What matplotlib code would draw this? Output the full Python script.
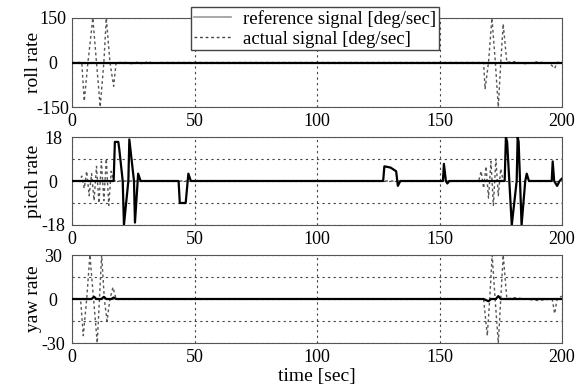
import numpy as np
import matplotlib
matplotlib.use("Agg")
import matplotlib.pyplot as plt
from matplotlib.lines import Line2D

plt.rcParams['font.family'] = ['Liberation Serif', 'DejaVu Serif']
plt.rcParams['font.size'] = 13
plt.rcParams['axes.unicode_minus'] = False

# ---- data (time [sec], value [deg/sec]) ----
roll_ref_t = [0, 200]
roll_ref_v = [0, 0]
roll_act_t = [0, 4, 5, 6.5, 8.5, 10, 11.5, 13, 14, 15.5, 17, 18, 22, 25, 27, 29, 31, 33, 35,
              168, 168.6, 170, 171.4, 172.8, 174, 175, 176, 177.5, 180, 185, 190, 195, 197, 198, 200]
roll_act_v = [0, 0, -130, 0, 150, 0, -150, 0, 150, 0, -80, 0, 0, -5, 3, -6, 4, -3, 0,
              0, -90, 0, 150, 0, -150, 0, 130, 0, 3, -4, 2, -3, -20, 0, 2]

pitch_ref_t = [0, 17, 17.5, 18.9, 19.3, 20.7, 21.2, 23.0, 23.4, 25.3, 25.7, 27, 28,
               43.5, 44, 46.4, 47.5, 48.5, 127, 127.5, 130, 132.3, 133, 134,
               151.4, 151.8, 152.6, 153.2, 154, 176.6, 177.1, 177.6, 179.5, 181.5, 181.9,
               182.3, 183.5, 185, 185.6, 186.5, 195.8, 196.2, 196.8, 198, 199, 200]
pitch_ref_v = [0, 0, 16, 16, 13, 0, -18, 0, 17, 0, -17, 3, 0,
               0, -9, -9, 3, 0, 0, 6, 5.5, 4, -2, 0,
               0, 7, 0, -1, 0, 0, 18, 16, -18, 0, 18,
               16, -18, 0, 3, 0, 0, 8, 0, -2, 0, 1]
pitch_act_t = [0, 3, 4, 5, 6, 7, 8, 9, 10, 11, 12, 13, 14, 15, 16, 17,
               166, 167, 168, 169, 170, 171, 172, 173, 174, 175, 176]
pitch_act_v = [0, 0, 2, -3, 4, -6, 3, -8, 6, -9, 8, -8, 9, -10, 4, 0,
               0, 4, -3, 6, -7, 8, -10, 9, -6, 5, 0]

yaw_ref_t = [0, 8, 9, 10, 12, 13, 14, 16, 17, 18, 168, 170, 171, 173, 174, 175, 177, 200]
yaw_ref_v = [0, 0, 1.5, 0, 0, 1.5, 0, 0, 1, 0, 0, -1.5, 0, 0, 2, 0, 0, 0]
yaw_act_t = [0, 3.5, 4.6, 6, 7.3, 8.8, 10.3, 11.2, 12.1, 13.2, 14.3, 15.5, 16.7, 18,
             168, 169.5, 170.5, 171.5, 172.7, 174, 175, 176, 177.5, 180, 190, 196, 197, 198, 200]
yaw_act_v = [0, 0, -25, 0, 30, 0, -30, 0, 30, 0, -15, 0, 8, 0,
             0, -25, 0, 30, 0, -30, 0, 30, 0, 1, -1, 0, -10, 0, 2]

xticks = [0, 50, 100, 150, 200]
panels = [
    ("roll rate", roll_ref_t, roll_ref_v, roll_act_t, roll_act_v, 150, [-150, 0, 150], []),
    ("pitch rate", pitch_ref_t, pitch_ref_v, pitch_act_t, pitch_act_v, 18, [-18, 0, 18], [-9, 9]),
    ("yaw rate", yaw_ref_t, yaw_ref_v, yaw_act_t, yaw_act_v, 30, [-30, 0, 30], [-15, 15]),
]

fig = plt.figure(figsize=(5.84, 3.90), dpi=100)
left, width = 72 / 584, 490 / 584
tops = [18, 137, 255]
bottoms = [107, 225, 343]

for (name, rt, rv, at, av, lim, yt, ymin), tp, bt in zip(panels, tops, bottoms):
    ax = fig.add_axes([left, 1 - bt / 390, width, (bt - tp) / 390])
    ax.plot(at, av, color='#555555', lw=1.0, ls=(0, (2, 2)), zorder=2)
    ax.plot(rt, rv, color='black', lw=1.6, zorder=3)
    ax.set_xlim(0, 200)
    ax.set_ylim(-lim, lim)
    ax.set_xticks(xticks)
    ax.set_yticks(yt)
    ax.set_yticks(ymin, minor=True)
    ax.tick_params(which='both', direction='in', length=0)
    ax.tick_params(axis='x', pad=4.5)
    ax.tick_params(axis='y', pad=13.5)
    for lab in ax.get_yticklabels():
        lab.set_horizontalalignment('center')
    ax.xaxis.grid(True, which='major', color='#444444', ls=(0, (2, 3)), lw=0.8)
    ax.yaxis.grid(True, which='both', color='#444444', ls=(0, (2, 3)), lw=0.8)
    ax.set_axisbelow(True)
    for s in ax.spines.values():
        s.set_color('#555555')
        s.set_linewidth(0.8)
    ax.set_ylabel(name, labelpad=0, fontsize=14)
    ax.yaxis.set_label_coords(-0.062, 0.5)
    if name == "yaw rate":
        ax.set_xlabel("time [sec]", labelpad=1, fontsize=14)

handles = [Line2D([], [], color='#999999', lw=1.2),
           Line2D([], [], color='#444444', lw=1.0, ls=(0, (2, 2)))]
fig.legend(handles, ["reference signal [deg/sec]", "actual signal [deg/sec]"],
           loc='upper left', bbox_to_anchor=(191 / 584, 1 - 7 / 390),
           fancybox=False, edgecolor='#444444', framealpha=1, borderpad=0.15,
           labelspacing=0.15, handlelength=2.0, handletextpad=0.6, borderaxespad=0,
           fontsize=13.5)

fig.savefig("out.png", dpi=100)
